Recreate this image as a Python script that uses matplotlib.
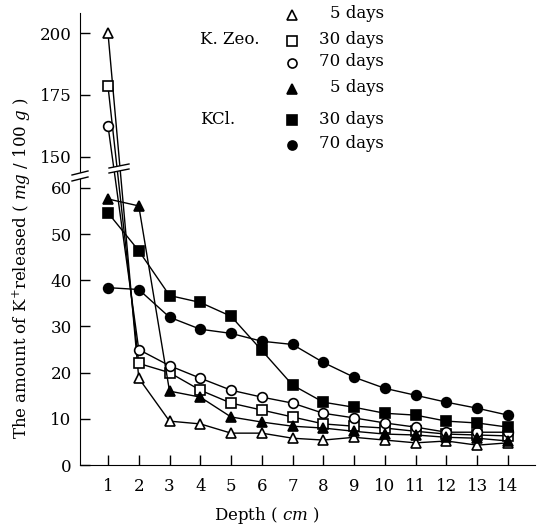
import numpy as np
import matplotlib.pyplot as plt
from matplotlib.lines import Line2D
from matplotlib.patches import Polygon

plt.rcParams['font.family'] = ['DejaVu Serif']
plt.rcParams['mathtext.fontset'] = 'dejavuserif'

# depth (cm)
depth = [1, 2, 3, 4, 5, 6, 7, 8, 9, 10, 11, 12, 13, 14]

# K. Zeo. (open markers)
zeo_5 = [200, 18.8, 9.5, 8.9, 6.9, 6.9, 5.8, 5.4, 6.0, 5.4, 4.8, 5.2, 4.3, 4.8]
zeo_30 = [178.5, 22, 20, 16.2, 13.4, 11.9, 10.4, 8.9, 8.4, 8.0, 7.3, 6.7, 6.5, 6.3]
zeo_70 = [162.5, 25, 21.5, 18.8, 16.2, 14.7, 13.4, 11.2, 10.2, 9.1, 8.2, 7.1, 7.1, 7.1]

# KCl. (filled markers)
kcl_5 = [57.6, 56.1, 16, 14.7, 10.4, 9.3, 8.4, 8.0, 7.3, 6.7, 6.5, 6.0, 5.8, 5.2]
kcl_30 = [54.6, 46.4, 36.7, 35.2, 32.2, 24.8, 17.3, 13.6, 12.5, 11.2, 10.8, 9.5, 9.1, 8.2]
kcl_70 = [38.4, 38.0, 32, 29.4, 28.5, 26.8, 26.1, 22.2, 19.0, 16.6, 15.1, 13.6, 12.3, 10.8]

yticks = [0, 10, 20, 30, 40, 50, 60, 150, 175, 200]

series = [
    (zeo_5, '^', 'white', '5 days'),
    (zeo_30, 's', 'white', '30 days'),
    (zeo_70, 'o', 'white', '70 days'),
    (kcl_5, '^', 'black', '5 days'),
    (kcl_30, 's', 'black', '30 days'),
    (kcl_70, 'o', 'black', '70 days'),
]
msize = {'^': 7.5, 's': 7, 'o': 7}

# broken y axis: 0-61 kept as is, 145-210 squeezed on top
LO, HI, HI_U, K = 61.0, 145.2, 64.17, 0.5356


def fwd(v):
    v = np.asarray(v, dtype=float)
    mid = LO + (v - LO) * (HI_U - LO) / (HI - LO)
    top = HI_U + (v - HI) * K
    return np.where(v <= LO, v, np.where(v <= HI, mid, top))


def inv(u):
    u = np.asarray(u, dtype=float)
    mid = LO + (u - LO) * (HI - LO) / (HI_U - LO)
    top = HI + (u - HI_U) / K
    return np.where(u <= LO, u, np.where(u <= HI_U, mid, top))


fig = plt.figure(figsize=(5.42, 5.28), dpi=100)
ax = fig.add_axes([0.1476, 0.1193, 0.8395, 0.856])
ax.set_yscale('function', functions=(fwd, inv))

for vals, mk, fc, lab in series:
    ax.plot(depth, vals, color='black', lw=1.0, marker=mk, ms=msize[mk],
            mfc=fc, mec='black', mew=1.2)

ax.set_xlim(0.09, 14.88)
ax.set_ylim(0, 208.1)
ax.set_yticks(yticks)
ax.set_yticks([], minor=True)
ax.set_xticks(depth)
ax.spines['top'].set_visible(False)
ax.spines['right'].set_visible(False)
ax.tick_params(axis='y', direction='in', length=7, width=1, pad=6, labelsize=12)
ax.tick_params(axis='x', direction='in', length=7, width=1, pad=9, labelsize=12)


def px(x, y):
    return (x / 542, 1 - y / 528)


# break marks: white gap, then two slanted strokes
def breakmark(x0, x1, y_a, y_b):
    gap = Polygon([px(x0, y_a + 2), px(x1, y_a - 2), px(x1, y_b - 2), px(x0, y_b + 2)],
                  closed=True, fc='white', ec='none', zorder=5)
    fig.add_artist(gap)
    for yy in (y_a, y_b):
        a, b = px(x0, yy + 2), px(x1, yy - 2)
        fig.add_artist(Line2D([a[0], b[0]], [a[1], b[1]], color='black', lw=1.0, zorder=6))


breakmark(72, 88, 173, 179)
breakmark(109, 129, 166, 171)

# legend drawn by hand
rows = [14, 40, 62, 88, 119, 144]
for (vals, mk, fc, lab), ry in zip(series, rows):
    mx, my = px(292, ry + 1)
    fig.add_artist(Line2D([mx], [my], marker=mk, ms=msize[mk] - 0.5,
                          mfc=fc, mec='black', mew=1.2, ls='none'))
    fig.text(384 / 542, 1 - ry / 528, lab, ha='right', va='center', fontsize=12)
fig.text(200 / 542, 1 - 40 / 528, 'K. Zeo.', ha='left', va='center', fontsize=12)
fig.text(200 / 542, 1 - 119 / 528, 'KCl.', ha='left', va='center', fontsize=12)

fig.text(22 / 542, 1 - 268 / 528,
         'The amount of K$^{+}$released ( $\\mathit{mg}$ / 100 $\\mathit{g}$ )',
         rotation=90, ha='center', va='center', fontsize=12)
fig.text(267 / 542, 1 - 515 / 528, 'Depth ( $\\mathit{cm}$ )', ha='center', va='center', fontsize=12)

fig.savefig('out.png', dpi=100)
